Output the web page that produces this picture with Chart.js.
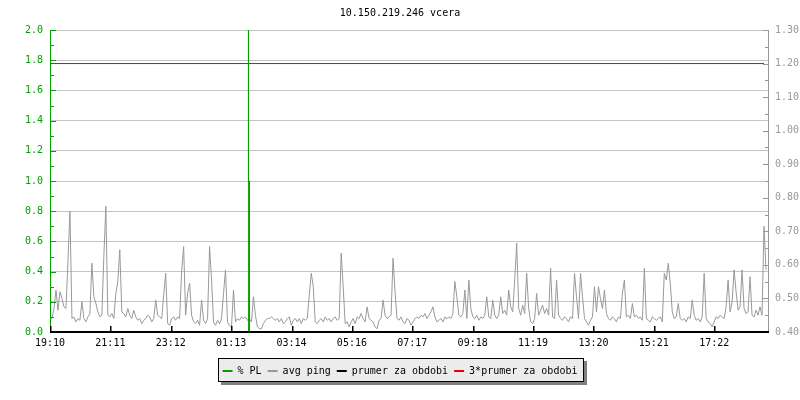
<!DOCTYPE html>
<html>
<head>
<meta charset="utf-8">
<title>10.150.219.246 vcera</title>
<script src="https://cdn.jsdelivr.net/npm/chart.js"></script>
<style>
  body { margin: 0; background: #fff; }
  canvas { display: block; }
</style>
</head>
<body>
<canvas id="pingChart" width="800" height="400"></canvas>
<script>
// Osa X: minuty od 19:10, popisky kazdych ~121 min
const xTickLabels = ['19:10', '21:11', '23:12', '01:13', '03:14', '05:16', '07:17', '09:18', '11:19', '13:20', '15:21', '17:22'];
const xTickStep = 121.1;
const spanMinutes = 1440;

// avg ping (prava osa), jeden vzorek kazde 4 minuty
const pingStepMin = 4;
const pingAvg = [
  0.445, 0.44, 0.47, 0.525, 0.465, 0.52, 0.50, 0.475, 0.47, 0.61,
  0.76, 0.44, 0.445, 0.43, 0.44, 0.435, 0.49, 0.44, 0.43, 0.445,
  0.455, 0.605, 0.505, 0.485, 0.46, 0.445, 0.45, 0.625, 0.775, 0.45,
  0.445, 0.455, 0.44, 0.515, 0.55, 0.645, 0.46, 0.455, 0.445, 0.47,
  0.45, 0.44, 0.465, 0.445, 0.435, 0.44, 0.425, 0.435, 0.44, 0.45,
  0.445, 0.43, 0.44, 0.495, 0.45, 0.445, 0.44, 0.51, 0.575, 0.425,
  0.42, 0.44, 0.445, 0.435, 0.445, 0.44, 0.58, 0.655, 0.45, 0.515,
  0.545, 0.45, 0.43, 0.425, 0.435, 0.42, 0.495, 0.435, 0.425, 0.44,
  0.655, 0.555, 0.43, 0.42, 0.435, 0.425, 0.44, 0.515, 0.585, 0.43,
  0.42, 0.415, 0.525, 0.43, 0.44, 0.435, 0.445, 0.44, 0.445, 0.435,
  0.44, 0.43, 0.505, 0.45, 0.415, 0.41, 0.41, 0.425, 0.435, 0.44,
  0.44, 0.445, 0.44, 0.435, 0.44, 0.43, 0.44, 0.425, 0.43, 0.44,
  0.445, 0.42, 0.435, 0.44, 0.43, 0.44, 0.425, 0.44, 0.435, 0.44,
  0.51, 0.575, 0.535, 0.43, 0.425, 0.435, 0.44, 0.43, 0.445, 0.435,
  0.44, 0.43, 0.44, 0.445, 0.435, 0.44, 0.635, 0.535, 0.425, 0.43,
  0.415, 0.43, 0.44, 0.425, 0.445, 0.44, 0.455, 0.44, 0.43, 0.475,
  0.44, 0.435, 0.43, 0.415, 0.41, 0.435, 0.44, 0.495, 0.45, 0.44,
  0.445, 0.45, 0.62, 0.52, 0.44, 0.435, 0.445, 0.43, 0.425, 0.44,
  0.435, 0.42, 0.43, 0.44, 0.445, 0.44, 0.45, 0.445, 0.455, 0.44,
  0.45, 0.46, 0.475, 0.445, 0.43, 0.435, 0.44, 0.43, 0.445, 0.44,
  0.445, 0.44, 0.455, 0.55, 0.505, 0.45, 0.445, 0.455, 0.525, 0.44,
  0.555, 0.47, 0.445, 0.44, 0.45, 0.435, 0.445, 0.44, 0.45, 0.505,
  0.445, 0.44, 0.495, 0.45, 0.44, 0.45, 0.505, 0.455, 0.465, 0.45,
  0.525, 0.475, 0.46, 0.555, 0.665, 0.47, 0.45, 0.48, 0.455, 0.575,
  0.47, 0.43, 0.425, 0.44, 0.515, 0.45, 0.465, 0.48, 0.455, 0.47,
  0.45, 0.59, 0.445, 0.44, 0.555, 0.45, 0.44, 0.435, 0.445, 0.44,
  0.43, 0.445, 0.44, 0.575, 0.505, 0.44, 0.575, 0.505, 0.44, 0.43,
  0.42, 0.435, 0.445, 0.535, 0.46, 0.535, 0.50, 0.47, 0.525, 0.455,
  0.44, 0.435, 0.445, 0.44, 0.43, 0.445, 0.44, 0.515, 0.555, 0.445,
  0.45, 0.44, 0.485, 0.445, 0.45, 0.44, 0.445, 0.435, 0.59, 0.44,
  0.435, 0.43, 0.445, 0.44, 0.435, 0.44, 0.445, 0.43, 0.575, 0.555,
  0.605, 0.545, 0.46, 0.44, 0.445, 0.485, 0.44, 0.435, 0.44, 0.43,
  0.445, 0.44, 0.495, 0.45, 0.435, 0.44, 0.43, 0.445, 0.575, 0.44,
  0.43, 0.425, 0.415, 0.43, 0.445, 0.44, 0.45, 0.445, 0.44, 0.475,
  0.555, 0.46, 0.49, 0.585, 0.52, 0.465, 0.475, 0.585, 0.47, 0.455,
  0.46, 0.565, 0.45, 0.445, 0.465, 0.45, 0.475, 0.45, 0.715, 0.585
];

// % PL (leva osa) - jen jeden vypadek kolem 01:48
const plTimes = [0, 398, 398, 398, 400, 400, 1440];
const plValues = [0, 0, 2.0, 1.0, 1.0, 0, 0];

// prumer za obdobi (prava osa)
const periodMean = 0.40;
const meanLineEnd = 1432;

// Barvy
const plColor = '#00a000';
const pingColor = '#999999';
const meanColor = '#000000';
const mean3Color = '#ee0000';
const gridColor = '#c4c4c4';
const monoFont = { family: '"DejaVu Sans Mono", "Liberation Mono", monospace', size: 10 };

const pingPoints = pingAvg.map((v, i) => ({ x: i * pingStepMin, y: v }));
const plPoints = plTimes.map((t, i) => ({ x: t, y: plValues[i] }));

// Osy a znacky uvnitr grafu (rrdtool styl)
const axisFrame = {
    id: 'axisFrame',
    afterDatasetsDraw(chart) {
        const { ctx, chartArea: a, scales: { x, y, y1 } } = chart;
        ctx.save();
        ctx.lineWidth = 1;

        // leva osa, zelena
        ctx.strokeStyle = plColor;
        ctx.beginPath();
        ctx.moveTo(a.left + 0.5, a.top);
        ctx.lineTo(a.left + 0.5, a.bottom);
        for (let k = 0; k <= 20; k++) {
            const py = Math.round(y.getPixelForValue(k / 10)) + 0.5;
            ctx.moveTo(a.left, py);
            ctx.lineTo(a.left + (k % 2 ? 4 : 6), py);
        }
        ctx.stroke();

        // prava osa, seda
        ctx.strokeStyle = pingColor;
        ctx.beginPath();
        ctx.moveTo(a.right + 0.5, a.top);
        ctx.lineTo(a.right + 0.5, a.bottom);
        for (let k = 0; k <= 18; k++) {
            const py = Math.round(y1.getPixelForValue(0.4 + k * 0.05)) + 0.5;
            ctx.moveTo(a.right + 1, py);
            ctx.lineTo(a.right - (k % 2 ? 3 : 5), py);
        }
        ctx.stroke();

        // spodni osa, cerna
        ctx.fillStyle = '#000';
        ctx.fillRect(a.left, a.bottom - 1, a.right - a.left + 1, 2);
        x.ticks.forEach(t => {
            const px = Math.round(x.getPixelForValue(t.value));
            ctx.fillRect(px, a.bottom - 6, 1.5, 6);
        });
        ctx.restore();
    }
};

// Ramecek legendy se stinem
const legendFrame = {
    id: 'legendFrame',
    beforeDraw(chart) {
        const boxes = chart.legend && chart.legend.legendHitBoxes;
        if (!boxes || !boxes.length) return;
        const ctx = chart.ctx;
        const first = boxes[0];
        const last = boxes[boxes.length - 1];
        const left = Math.round(first.left - 5);
        const right = Math.round(last.left + last.width + 7);
        const mid = first.top + first.height / 2;
        const top = Math.round(mid - 13);
        const w = right - left;
        const h = 24;
        ctx.save();
        ctx.fillStyle = '#808080';
        ctx.fillRect(left + 3, top + 3, w, h);
        ctx.fillStyle = '#ececec';
        ctx.fillRect(left, top, w, h);
        ctx.strokeStyle = '#000';
        ctx.lineWidth = 1;
        ctx.strokeRect(left + 0.5, top + 0.5, w - 1, h - 1);
        ctx.restore();
    }
};

const pingData = {
    datasets: [
        {
            label: '% PL',
            data: plPoints,
            yAxisID: 'y',
            borderColor: plColor,
            backgroundColor: plColor,
            borderWidth: 1
        },
        {
            label: 'avg ping',
            data: pingPoints,
            yAxisID: 'y1',
            borderColor: pingColor,
            backgroundColor: pingColor,
            borderWidth: 1
        },
        {
            label: 'prumer za obdobi',
            data: [{ x: 0, y: periodMean }, { x: meanLineEnd, y: periodMean }],
            yAxisID: 'y1',
            borderColor: meanColor,
            backgroundColor: meanColor,
            borderWidth: 1
        },
        {
            label: '3*prumer za obdobi',
            data: [{ x: 0, y: 3 * periodMean }, { x: meanLineEnd, y: 3 * periodMean }],
            yAxisID: 'y1',
            borderColor: mean3Color,
            backgroundColor: mean3Color,
            borderWidth: 1
        }
    ]
};

const pingConfig = {
    type: 'line',
    data: pingData,
    options: {
        responsive: false,
        animation: false,
        layout: { padding: { bottom: 14 } },
        elements: { point: { radius: 0 }, line: { tension: 0 } },
        scales: {
            x: {
                type: 'linear',
                min: 0,
                max: spanMinutes,
                grid: { display: false, drawTicks: false },
                border: { display: false },
                afterBuildTicks: scale => {
                    scale.ticks = xTickLabels.map((_, i) => ({ value: i * xTickStep }));
                },
                afterFit: scale => { scale.height = 28; },
                ticks: {
                    autoSkip: false,
                    maxRotation: 0,
                    padding: 5,
                    color: '#000',
                    font: monoFont,
                    callback: (value, index) => xTickLabels[index]
                }
            },
            y: {
                position: 'left',
                min: 0,
                max: 2.0,
                grid: { color: gridColor, drawTicks: false },
                border: { display: false },
                afterFit: scale => { scale.width = 50; },
                ticks: {
                    stepSize: 0.2,
                    padding: 7,
                    color: plColor,
                    font: monoFont,
                    callback: value => Number(value).toFixed(1)
                }
            },
            y1: {
                position: 'right',
                min: 0.4,
                max: 1.3,
                grid: { display: false, drawTicks: false },
                border: { display: false },
                afterFit: scale => { scale.width = 32; },
                ticks: {
                    stepSize: 0.1,
                    padding: 7,
                    color: pingColor,
                    font: monoFont,
                    callback: value => Number(value).toFixed(2)
                }
            }
        },
        plugins: {
            title: {
                display: true,
                text: '10.150.219.246 vcera',
                color: '#000',
                font: { ...monoFont, weight: 'normal' },
                padding: { top: 7, bottom: 11 }
            },
            legend: {
                position: 'bottom',
                labels: {
                    boxWidth: 10,
                    boxHeight: 2,
                    padding: 6,
                    color: '#000',
                    font: monoFont,
                    generateLabels: chart =>
                        Chart.defaults.plugins.legend.labels.generateLabels(chart)
                            .map(item => ({ ...item, lineWidth: 0, strokeStyle: item.fillStyle }))
                }
            },
            tooltip: { enabled: false }
        }
    },
    plugins: [legendFrame, axisFrame]
};

const pingChart = new Chart(document.getElementById('pingChart'), pingConfig);
</script>
</body>
</html>
